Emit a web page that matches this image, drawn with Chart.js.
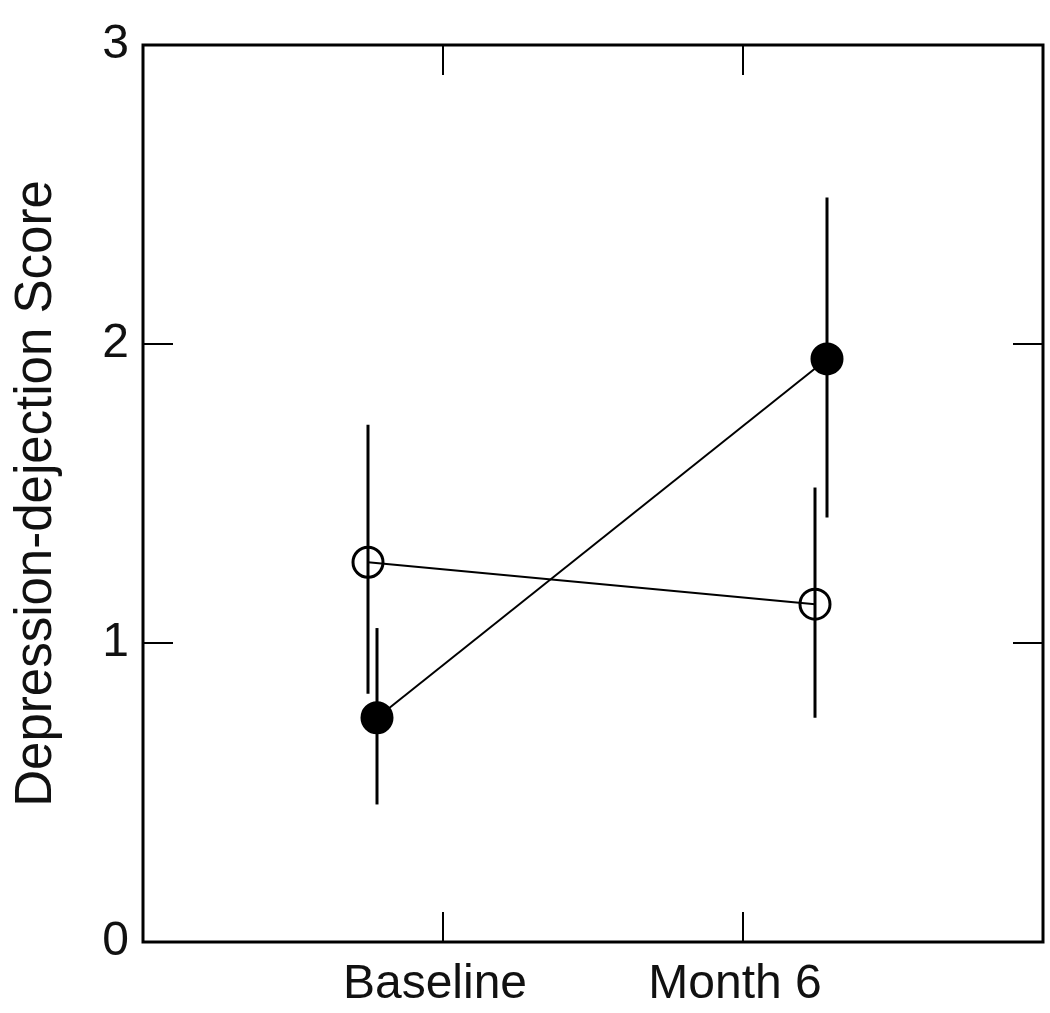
<!DOCTYPE html>
<html>
<head>
<meta charset="utf-8">
<script src="https://cdn.jsdelivr.net/npm/chart.js@4.4.0/dist/chart.umd.min.js"></script>
<style>
  html, body { margin: 0; padding: 0; background: #fff; }
  #wrap { width: 1050px; height: 1013px; }
</style>
</head>
<body>
<div id="wrap"><canvas id="c" width="1050" height="1013"></canvas></div>
<script>
// ---- Data ----
const categories = ['Baseline', 'Month 6'];
const categoryX = [1, 2];
const yTicks = [0, 1, 2, 3];
const yTitle = 'Depression-dejection Score';

// open circles
const openX = [0.75, 2.24];
const openY = [1.27, 1.13];
const openLow = [0.83, 0.75];
const openHigh = [1.73, 1.52];

// filled circles
const filledX = [0.78, 2.28];
const filledY = [0.75, 1.95];
const filledLow = [0.46, 1.42];
const filledHigh = [1.05, 2.49];

// ---- Build datasets ----
function pts(xs, ys) { return xs.map((x, i) => ({ x: x, y: ys[i] })); }
function errBars(xs, lo, hi) {
  return xs.map((x, i) => ({
    type: 'line',
    data: [{ x: x, y: lo[i] }, { x: x, y: hi[i] }],
    borderColor: '#000',
    borderWidth: 3,
    pointRadius: 0,
    fill: false,
    order: 2
  }));
}

const datasets = [
  ...errBars(openX, openLow, openHigh),
  ...errBars(filledX, filledLow, filledHigh),
  {
    type: 'line',
    label: 'open',
    data: pts(openX, openY),
    borderColor: '#000',
    borderWidth: 2,
    pointRadius: 15,
    pointBorderWidth: 3,
    pointBackgroundColor: 'rgba(255,255,255,0)',
    pointBorderColor: '#000',
    fill: false,
    order: 1
  },
  {
    type: 'line',
    label: 'filled',
    data: pts(filledX, filledY),
    borderColor: '#000',
    borderWidth: 2,
    pointRadius: 15,
    pointBorderWidth: 3,
    pointBackgroundColor: '#000',
    pointBorderColor: '#000',
    fill: false,
    order: 0
  }
];

// frame + inward ticks on all four sides
const framePlugin = {
  id: 'frame',
  afterDraw(chart) {
    const ctx = chart.ctx;
    const a = chart.chartArea;
    const xs = chart.scales.x, ys = chart.scales.y;
    ctx.save();
    ctx.strokeStyle = '#000';
    ctx.lineWidth = 3;
    ctx.strokeRect(a.left, a.top, a.right - a.left, a.bottom - a.top);
    ctx.lineWidth = 2;
    const L = 30;
    ctx.beginPath();
    yTicks.forEach(v => {
      if (v <= ys.min || v >= ys.max) return;
      const py = Math.round(ys.getPixelForValue(v));
      ctx.moveTo(a.left, py); ctx.lineTo(a.left + L, py);
      ctx.moveTo(a.right, py); ctx.lineTo(a.right - L, py);
    });
    categoryX.forEach(v => {
      const px = Math.round(xs.getPixelForValue(v));
      ctx.moveTo(px, a.bottom); ctx.lineTo(px, a.bottom - L);
      ctx.moveTo(px, a.top); ctx.lineTo(px, a.top + L);
    });
    ctx.stroke();
    ctx.restore();
  }
};

const FONT = 'Liberation Sans, Arial, sans-serif';

new Chart(document.getElementById('c'), {
  type: 'line',
  data: { datasets: datasets },
  options: {
    responsive: false,
    animation: false,
    devicePixelRatio: 1,
    layout: { autoPadding: false, padding: { top: 45, right: 7, left: 0, bottom: 0 } },
    plugins: {
      legend: { display: false },
      tooltip: { enabled: false }
    },
    scales: {
      x: {
        type: 'linear',
        min: 0,
        max: 3,
        afterBuildTicks(scale) { scale.ticks = categoryX.map(v => ({ value: v })); },
        afterFit(scale) { scale.height = 71; scale.paddingLeft = 0; scale.paddingRight = 0; },
        grid: { display: false, drawTicks: false },
        border: { display: false },
        ticks: {
          color: '#111',
          padding: 14,
          labelOffset: -8,
          font: { family: FONT, size: 48 },
          maxRotation: 0,
          autoSkip: false,
          callback: (v) => { const i = categoryX.indexOf(v); return i >= 0 ? categories[i] : ''; }
        }
      },
      y: {
        type: 'linear',
        min: 0,
        max: 3,
        afterBuildTicks(scale) { scale.ticks = yTicks.map(v => ({ value: v })); },
        afterFit(scale) { scale.width = 143; scale.paddingTop = 0; scale.paddingBottom = 0; },
        grid: { display: false, drawTicks: false },
        border: { display: false },
        ticks: {
          color: '#111',
          padding: 14,
          font: { family: FONT, size: 48 },
          callback: (v) => String(v)
        },
        title: {
          display: true,
          text: yTitle,
          color: '#111',
          font: { family: FONT, size: 51 },
          padding: { top: 6, bottom: 0 }
        }
      }
    }
  },
  plugins: [framePlugin]
});
</script>
</body>
</html>
